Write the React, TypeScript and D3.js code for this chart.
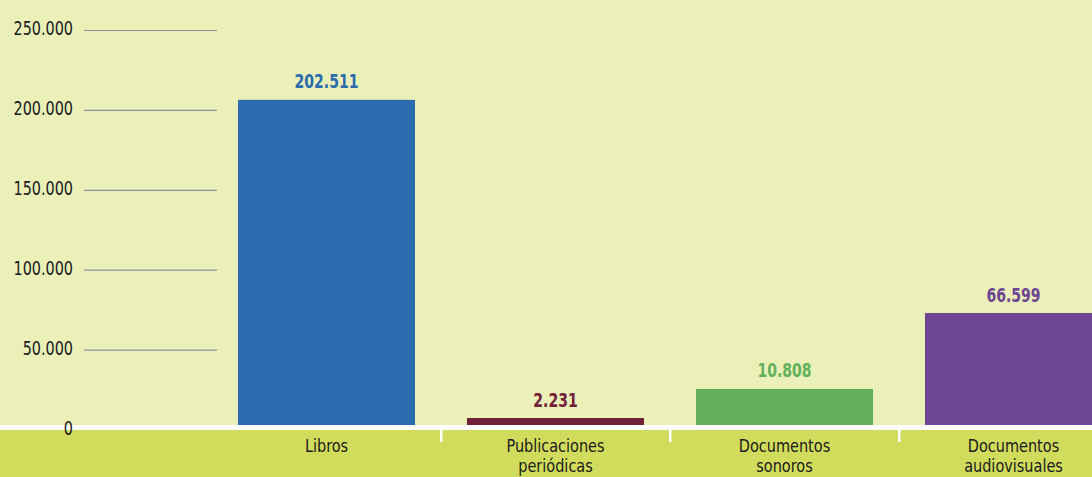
import React, { useEffect, useRef } from "react";
import * as d3 from "d3";

const categories = ["Libros", "Publicaciones periódicas", "Documentos sonoros", "Documentos audiovisuales"];
const categoryLines = [["Libros"], ["Publicaciones", "periódicas"], ["Documentos", "sonoros"], ["Documentos", "audiovisuales"]];
// bar heights as drawn in the picture
const barValues = [206600, 7500, 25700, 73200];
// value labels as printed
const valueLabels = ["202.511", "2.231", "10.808", "66.599"];
const colors = ["#2b6cae", "#722038", "#63b05a", "#6e4592"];
const yTicks = [0, 50000, 100000, 150000, 200000, 250000];
const yTickLabels = ["0", "50.000", "100.000", "150.000", "200.000", "250.000"];

const W = 1092;
const H = 477;
const FONT = "'DejaVu Sans Condensed', 'Liberation Sans Narrow', sans-serif";

export default function App() {
  const ref = useRef<SVGSVGElement>(null);

  useEffect(() => {
    document.body.style.margin = "0";
    const svg = d3.select(ref.current);
    svg.selectAll("*").remove();

    const y = d3.scaleLinear().domain([0, 250000]).range([430, 30.5]);
    const x = d3.scaleBand<string>()
      .domain(["", ...categories])
      .range([-17, 1128])
      .paddingInner(0.227)
      .paddingOuter(0.1135);

    const txt = (
      parent: any, tx: number, ty: number, s: string, size: number, sx: number,
      anchor: string, fill: string, weight = "normal"
    ) =>
      parent.append("text")
        .attr("transform", `translate(${tx},${ty}) scale(${sx},1)`)
        .attr("x", 0).attr("y", 0)
        .attr("text-anchor", anchor)
        .attr("font-family", FONT).attr("font-size", size).attr("font-weight", weight)
        .attr("fill", fill)
        .text(s);

    svg.append("rect").attr("x", 0).attr("y", 0).attr("width", W).attr("height", H).attr("fill", "#eaf0b8");

    // gridlines (left area only)
    const g = svg.append("g");
    yTicks.forEach((t) => {
      if (t > 0) {
        g.append("line")
          .attr("x1", 84).attr("x2", 217)
          .attr("y1", y(t)).attr("y2", y(t))
          .attr("stroke", "#8e9299").attr("stroke-width", 1.2);
      }
    });

    // bars
    categories.forEach((c, i) => {
      const bx = x(c)!;
      svg.append("rect")
        .attr("x", bx).attr("y", y(barValues[i]))
        .attr("width", x.bandwidth()).attr("height", y(0) - y(barValues[i]))
        .attr("fill", colors[i]);
      txt(svg, bx + x.bandwidth() / 2, y(barValues[i]) - 11.5, valueLabels[i], 20, 0.78, "middle", colors[i], "bold");
    });

    // bottom band
    svg.append("rect").attr("x", 0).attr("y", 430).attr("width", W).attr("height", H - 430).attr("fill", "#d1dc5c");
    svg.append("rect").attr("x", 0).attr("y", 425).attr("width", W).attr("height", 5).attr("fill", "#ffffff");

    // separators between categories
    for (let i = 1; i < categories.length; i++) {
      const prev = x(categories[i - 1])! + x.bandwidth();
      const next = x(categories[i])!;
      const sx = (prev + next) / 2;
      svg.append("rect").attr("x", sx - 1).attr("y", 429).attr("width", 2.5).attr("height", 13).attr("fill", "#ffffff");
    }

    // y tick labels
    yTicks.forEach((t, i) => {
      txt(svg, 73, y(t) + 4.5, yTickLabels[i], 20, 0.8, "end", "#1a1a1a");
    });

    // category labels
    categories.forEach((c, i) => {
      const cx = x(c)! + x.bandwidth() / 2;
      categoryLines[i].forEach((ln, j) => {
        txt(svg, cx, 451.5 + j * 20.5, ln, 17.5, 0.92, "middle", "#1a1a1a");
      });
    });
  }, []);

  return <svg ref={ref} width={W} height={H} style={{ display: "block" }} />;
}
